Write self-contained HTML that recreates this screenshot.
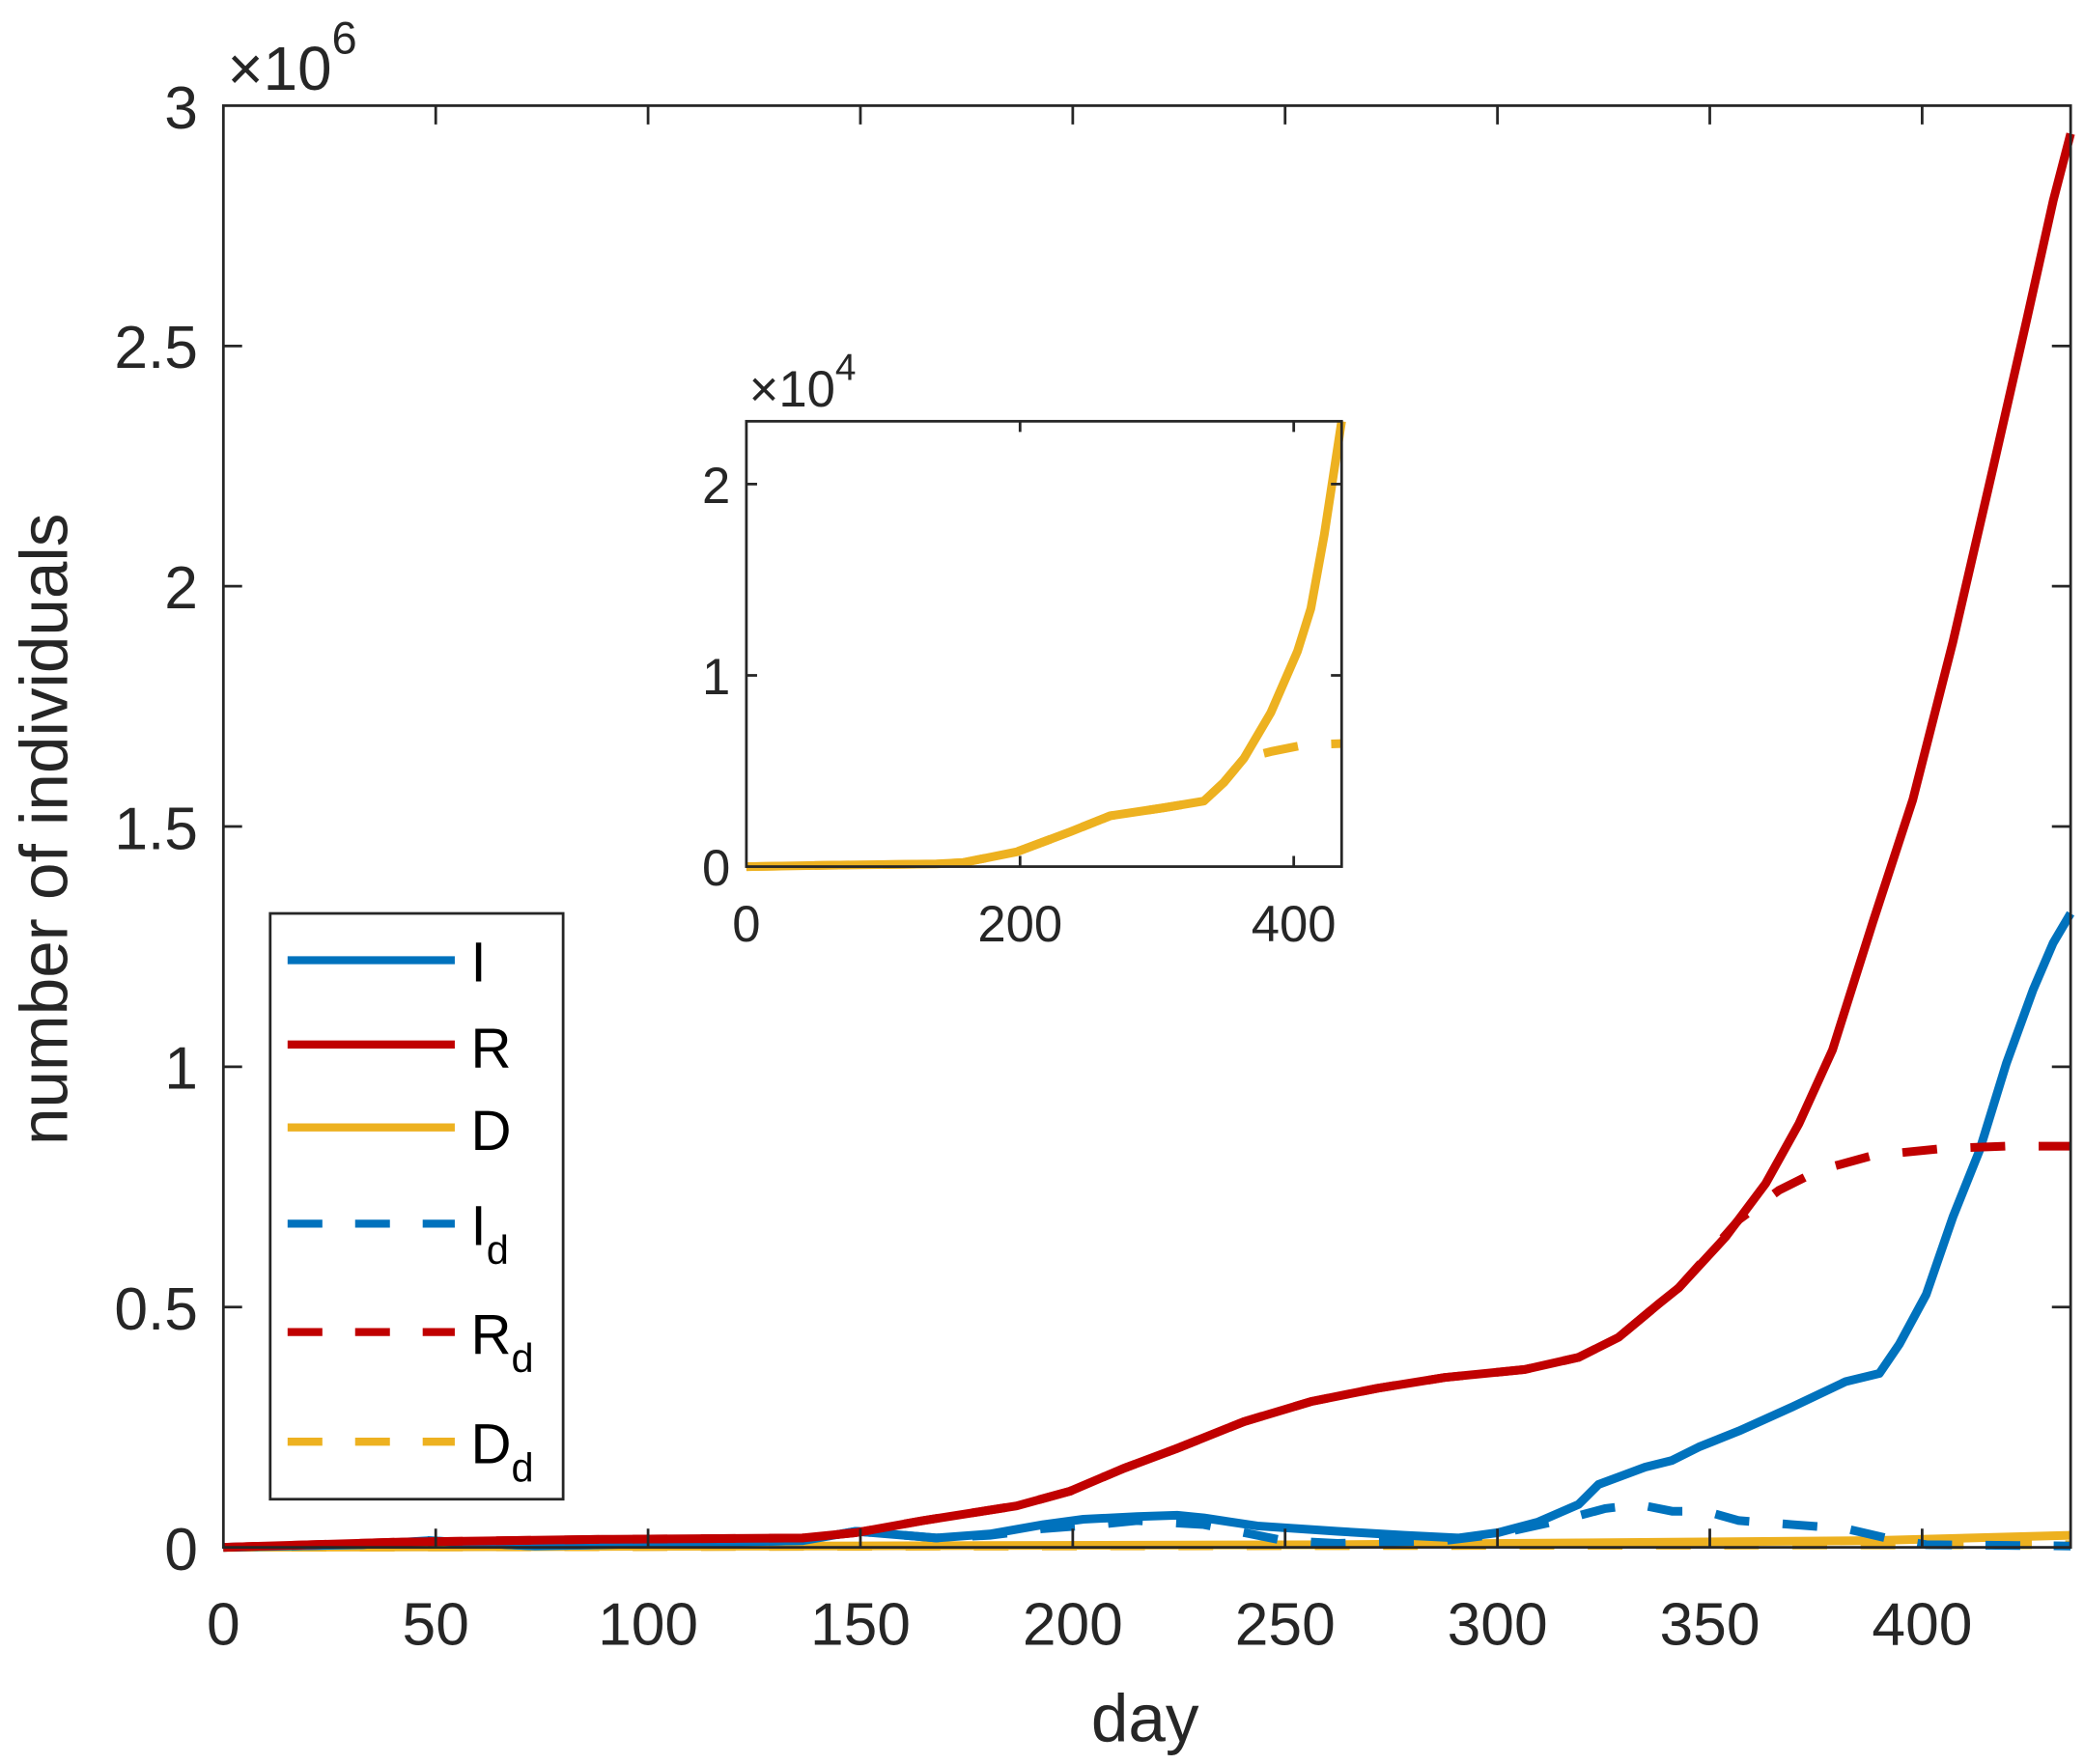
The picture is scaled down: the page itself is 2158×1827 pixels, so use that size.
<!DOCTYPE html>
<html><head><meta charset="utf-8"><style>html,body{margin:0;padding:0;background:#fff}svg{display:block}</style></head>
<body>
<svg width="2158" height="1827" viewBox="0 0 1558 1319" preserveAspectRatio="none" xmlns="http://www.w3.org/2000/svg" font-family="Liberation Sans, Arial, sans-serif" fill="#262626">
<rect x="0" y="0" width="1558" height="1319" fill="#fff"/>
<g fill="none" stroke-width="6.5" stroke-linejoin="round">
<polyline stroke="#EDB120" points="167,1157 600,1156 1000,1155 1400,1152 1548,1148"/>
<polyline stroke="#EDB120" stroke-dasharray="26 25" points="167,1157 800,1156 1548,1155"/>
<polyline stroke="#0072BD" points="167,1157 270,1155 320,1152 400,1156 600,1152 640,1145 700,1150 740,1147 780,1140 810,1136 850,1134 880,1133 900,1135 940,1141 1000,1145 1050,1148 1090,1150 1120,1146 1150,1138 1180,1125 1195,1110 1230,1097 1250,1092 1270,1082 1300,1070 1340,1052 1380,1033 1405,1027 1420,1005 1440,968 1460,910 1480,860 1500,795 1520,740 1535,705 1548,683"/>
<polyline stroke="#0072BD" stroke-dasharray="26 25" points="167,1157 270,1155 320,1152 400,1156 600,1152 640,1145 700,1150 740,1148 780,1143 820,1140 850,1137 900,1140 930,1146 960,1152 1000,1154 1080,1152 1120,1147 1170,1136 1200,1128 1225,1125 1250,1130 1275,1130 1300,1137 1340,1140 1380,1143 1410,1150 1440,1155 1548,1156"/>
<polyline stroke="#C00000" points="167,1157 300,1153 450,1151 600,1150 640,1146 690,1137 760,1126 800,1115 840,1098 880,1083 930,1063 980,1048 1030,1038 1080,1030 1140,1024 1180,1015 1210,1000 1240,975 1255,963 1290,925 1320,885 1345,840 1370,785 1400,690 1430,598 1460,480 1490,350 1515,240 1535,150 1548,100"/>
<polyline stroke="#C00000" stroke-dasharray="26 25" points="167,1157 300,1153 450,1151 600,1150 640,1146 690,1137 760,1126 800,1115 840,1098 880,1083 930,1063 980,1048 1030,1038 1080,1030 1140,1024 1180,1015 1210,1000 1240,975 1255,963 1280,935 1300,912 1330,890 1360,875 1400,864 1450,859 1500,857 1548,857"/>
</g>
<g stroke="#262626" stroke-width="2" fill="none">
<rect x="167" y="79" width="1381" height="1078"/>
<path d="M325.75,1157v-14M484.5,1157v-14M643.25,1157v-14M802,1157v-14M960.75,1157v-14M1119.5,1157v-14M1278.25,1157v-14M1437,1157v-14
M325.75,79v14M484.5,79v14M643.25,79v14M802,79v14M960.75,79v14M1119.5,79v14M1278.25,79v14M1437,79v14
M167,977.3h14M167,797.7h14M167,618h14M167,438.3h14M167,258.7h14
M1548,977.3h-14M1548,797.7h-14M1548,618h-14M1548,438.3h-14M1548,258.7h-14"/>
</g>
<g font-size="45" text-anchor="middle">
<text x="167" y="1230">0</text><text x="325.75" y="1230">50</text><text x="484.5" y="1230">100</text><text x="643.25" y="1230">150</text><text x="802" y="1230">200</text><text x="960.75" y="1230">250</text><text x="1119.5" y="1230">300</text><text x="1278.25" y="1230">350</text><text x="1437" y="1230">400</text>
</g>
<g font-size="45" text-anchor="end">
<text x="148" y="1174">0</text><text x="148" y="994">0.5</text><text x="148" y="814">1</text><text x="148" y="635">1.5</text><text x="148" y="455">2</text><text x="148" y="275">2.5</text><text x="148" y="96">3</text>
</g>
<text x="170" y="67" font-size="46">×10<tspan font-size="34" dy="-27">6</tspan></text>
<text x="856" y="1302" font-size="50" text-anchor="middle">day</text>
<text transform="translate(50,620) rotate(-90)" font-size="50" text-anchor="middle">number of individuals</text>
<rect x="202" y="683" width="219" height="438" fill="#fff" stroke="#262626" stroke-width="2"/>
<g stroke-width="6">
<line x1="215" y1="718" x2="340" y2="718" stroke="#0072BD"/>
<line x1="215" y1="781" x2="340" y2="781" stroke="#C00000"/>
<line x1="215" y1="843" x2="340" y2="843" stroke="#EDB120"/>
<line x1="215" y1="915" x2="340" y2="915" stroke="#0072BD" stroke-dasharray="26 24.5"/>
<line x1="215" y1="996" x2="340" y2="996" stroke="#C00000" stroke-dasharray="26 24.5"/>
<line x1="215" y1="1078" x2="340" y2="1078" stroke="#EDB120" stroke-dasharray="26 24.5"/>
</g>
<g font-size="42" fill="#000">
<text x="352" y="734">I</text>
<text x="352" y="798">R</text>
<text x="352" y="860">D</text>
<text x="352" y="931">I<tspan font-size="30" dy="14">d</tspan></text>
<text x="352" y="1012">R<tspan font-size="30" dy="14">d</tspan></text>
<text x="352" y="1094">D<tspan font-size="30" dy="14">d</tspan></text>
</g>
<rect x="558" y="315" width="445" height="333" fill="#fff"/>
<g fill="none" stroke="#EDB120" stroke-width="6.5" stroke-linejoin="round">
<polyline points="558,648 620,647 700,646 720,645 760,637 800,622 830,610 870,604 900,599 915,585 930,567 950,533 970,487 980,455 990,400 1003,315"/>
<polyline stroke-dasharray="26 25" points="558,648 620,647 700,646 720,645 760,637 800,622 830,610 870,604 900,599 915,585 930,567 950,562 975,557 1003,556"/>
</g>
<g stroke="#262626" stroke-width="2" fill="none">
<rect x="558" y="315" width="445" height="333"/>
<path d="M762.6,648v-8M967.2,648v-8M762.6,315v8M967.2,315v8M558,505h8M558,362h8M1003,505h-8M1003,362h-8"/>
</g>
<g font-size="38" text-anchor="middle">
<text x="558" y="704">0</text><text x="762.6" y="704">200</text><text x="967.2" y="704">400</text>
</g>
<g font-size="38" text-anchor="end">
<text x="546" y="662">0</text><text x="546" y="519">1</text><text x="546" y="376">2</text>
</g>
<text x="560" y="304" font-size="38">×10<tspan font-size="28" dy="-20">4</tspan></text>
</svg>
</body></html>
